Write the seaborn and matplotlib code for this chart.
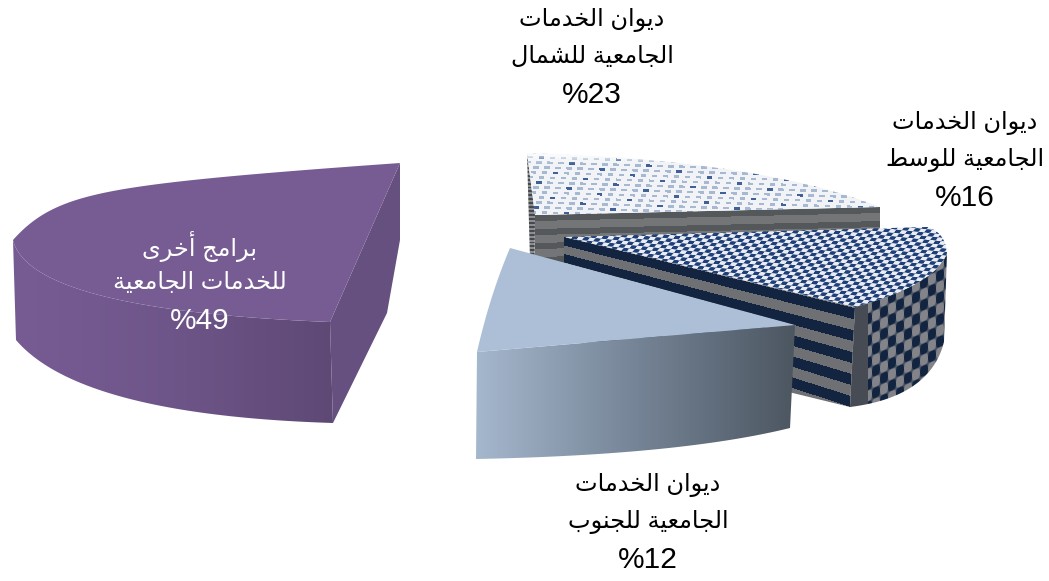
import unicodedata
import numpy as np
import matplotlib
matplotlib.use("Agg")
import matplotlib.pyplot as plt
from matplotlib.patches import Polygon
import seaborn as sns

# DATA
shares = [49, 12, 16, 23]
first_lines = ["برامج أخرى", "ديوان الخدمات", "ديوان الخدمات", "ديوان الخدمات"]
second_lines = ["للخدمات الجامعية", "الجامعية للجنوب", "الجامعية للوسط", "الجامعية للشمال"]

W, H = 1049, 581
X, Y = np.meshgrid(np.arange(W) + 0.5, np.arange(H) + 0.5)

sns.set_theme(style="white")
plt.rcParams["font.family"] = ["Liberation Sans", "DejaVu Sans"]

# ARABIC SHAPING (matplotlib has no shaper, so use presentation forms)
forms = {}
for cp in range(0xFE70, 0xFEFD):
    parts = unicodedata.decomposition(chr(cp)).split()
    if len(parts) == 2 and parts[0].startswith("<"):
        forms.setdefault(chr(int(parts[1], 16)), {})[parts[0].strip("<>")] = chr(cp)


def shape(line):
    out = []
    for i, c in enumerate(line):
        if c not in forms:
            out.append(c)
            continue
        prev = line[i - 1] if i > 0 else " "
        nxt = line[i + 1] if i + 1 < len(line) else " "
        join_prev = prev in forms and "initial" in forms[prev] and "final" in forms[c]
        join_next = nxt in forms and "initial" in forms[c]
        if join_prev and join_next:
            out.append(forms[c]["medial"])
        elif join_prev:
            out.append(forms[c]["final"])
        elif join_next:
            out.append(forms[c]["initial"])
        else:
            out.append(forms[c]["isolated"])
    return "".join(out)[::-1]


# HELPERS
def conic(p0, ctrl, p1, w, share):
    # arc sampling follows the share of the slice
    t = np.linspace(0, 1, max(12, share * 3))[:, None]
    p0, ctrl, p1 = np.array(p0, float), np.array(ctrl, float), np.array(p1, float)
    a, b, c = (1 - t) ** 2, 2 * w * t * (1 - t), t ** 2
    return (a * p0 + b * ctrl + c * p1) / (a + b + c)


def rgb(c):
    return np.array(matplotlib.colors.to_rgb(c))


def ramp(x0, x1, colors):
    pal = np.array(sns.blend_palette(colors, 256))
    t = np.clip((X - x0) / (x1 - x0), 0, 1)
    return pal[(t * 255).astype(int)]


def two_tone(mask, c0, c1):
    m = np.clip(mask.astype(float), 0, 1)[..., None]
    return rgb(c0) * (1 - m) + rgb(c1) * m


def fill(ax, pts, img):
    im = ax.imshow(img, extent=[0, W, H, 0], interpolation="nearest", aspect="auto")
    im.set_clip_path(Polygon(np.vstack(pts), closed=True, transform=ax.transData))


fig = plt.figure(figsize=(W / 100, H / 100), dpi=100)
ax = fig.add_axes([0, 0, 1, 1])

share_purple, share_blue, share_navy, share_check = shares

# NORTH SLICE (light checks)
row = np.floor((Y - 0.03 * X) / 2.5).astype(int)
col = np.floor(X / 5.5 + 0.5 * (row // 2)).astype(int)
dash = (row % 2 == 0) & (col % 2 == 0)
img = two_tone(dash, "#F1F3F6", "#A6B9D0")
img[dash & ((col + row // 2) % 7 == 0)] = rgb("#3F6297")
fade = np.clip((Y - 150) / 14, 0.4, 1)[..., None]
img = 1 - (1 - img) * fade

bands = ((Y + 0.023 * (X - 535) - 215) % 14) < 6
fill(ax, [[(527, 153), (535, 215), (534, 345), (530, 260)]],
     two_tone((np.sin(Y * 1.6) > 0), "#45484C", "#8B8D90"))
fill(ax, [[(535, 215), (880, 207), (880, 228), (535, 345)]], two_tone(bands, "#747577", "#54585B"))
fill(ax, [[(535, 215)], conic((880, 207), (760, 160), (527, 153), 1, share_check)], img)

# CENTRE SLICE (navy checks)
d = X - 564
stripes = ((Y - 237 - 0.245 * d) / (17 + 0.018 * d)) % 1 < 0.5
fill(ax, [[(564, 237), (855, 307), (850, 407), (564, 337)]], two_tone(stripes, "#6F7074", "#12243F"))

outer_top = conic((947, 253), (935, 285), (855, 307), 1, share_navy)
outer_bottom = conic((850, 407), (930, 397), (944, 342), 1, share_navy)
u = np.sin(2 * np.pi * X / 16) * np.sin(2 * np.pi * (Y + 0.45 * X) / 22)
img = two_tone(0.5 + 2.5 * u, "#83848A", "#12243F")
img[X < 868] = rgb("#474B53")
fill(ax, [outer_top, outer_bottom], img)

u = np.sin(2 * np.pi * (X + 0.8 * Y) / 12) * np.sin(2 * np.pi * (Y - 0.1 * X) / 7)
fill(ax, [[(564, 237)],
          conic((855, 307), (935, 285), (947, 253), 1, share_navy),
          conic((947, 253), (945, 232), (927, 227), 1, share_navy)],
     two_tone(0.45 + 2.2 * u, "#E9EDF3", "#1F3F78"))

# SOUTH SLICE (light blue)
fill(ax, [[(477, 352), (795, 325)], conic((790, 428), (680, 455), (476, 459), 1, share_blue)],
     ramp(477, 795, ["#A5B7CD", "#758496", "#4C5661"]))
fill(ax, [[(795, 325)], conic((477, 352), (490, 295), (510, 248), 1, share_blue)],
     ramp(0, W, ["#ADBFD7", "#ADBFD7"]))

# OTHER PROGRAMMES (purple)
arc_back = conic((400, 163), (60, 187), (13, 240), 2, share_purple)
arc_front = conic((13, 240), (30, 310), (330, 322), 1, share_purple)
arc_low = conic((333, 423), (80, 415), (16, 340), 1, share_purple)
fill(ax, [arc_front, arc_low], ramp(13, 333, ["#775C94", "#6E5589", "#5E4975"]))
fill(ax, [[(330, 322), (400, 163), (400, 240), (387, 313), (333, 423)]], ramp(0, W, ["#66507F", "#66507F"]))
fill(ax, [[(330, 322)], arc_back, arc_front], ramp(0, W, ["#775C94", "#775C94"]))

# LABELS
label_pos = [(200, 283), (648, 522), (965, 160), (592, 57)]
label_col = ["white", "black", "black", "black"]
for name1, name2, share, (x, y), c in zip(first_lines, second_lines, shares, label_pos, label_col):
    ax.text(x, y - 37, shape(name1), ha="center", va="center", fontsize=17.3, color=c)
    ax.text(x, y, shape(name2), ha="center", va="center", fontsize=17.3, color=c)
    ax.text(x, y + 38, f"%{share}", ha="center", va="center", fontsize=21.5, color=c)

ax.set_xlim(0, W)
ax.set_ylim(H, 0)
ax.axis("off")
fig.savefig("out.png", dpi=100, facecolor="white")
